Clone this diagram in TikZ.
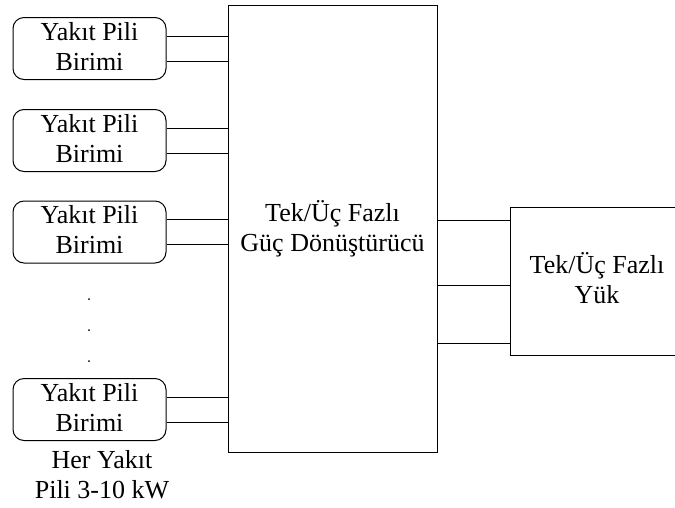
\documentclass[tikz,border=0pt]{standalone}
\usepackage{fontspec}
\setmainfont{Liberation Serif}
\begin{document}
\begin{tikzpicture}[x=1pt,y=-1pt,line width=1pt,
  every node/.style={font=\fontsize{26}{30}\selectfont,align=center,inner sep=0pt},
  every label/.style={font=\fontsize{26}{30}\selectfont,align=center,inner sep=0pt},
  cellbox/.style={draw,rounded corners=11pt,minimum width=153pt,minimum height=62pt,
    label={[yshift=2pt]center:{Yakıt Pili\\Birimi}}},
  bigbox/.style={draw,minimum width=209pt,minimum height=447pt},
  loadbox/.style={minimum width=164pt,minimum height=147pt},
  dot/.style={circle,fill,inner sep=0pt,minimum size=2pt},
  wire/.style={line width=1pt}]
\useasboundingbox (0,0) rectangle (675,507);

% fuel cell units
\node[cellbox] (fc1) at (89.5,48.5)  {};
\node[cellbox] (fc2) at (89.5,140.5) {};
\node[cellbox] (fc3) at (89.5,232)   {};
\node[cellbox] (fc4) at (89.5,409.5) {};

% ellipsis between units
\node[dot] (d1) at (89,299) {};
\node[dot] (d2) at (89,330) {};
\node[dot] (d3) at (89,361) {};

% rating note
\node (note) at (102,475) {Her Yakıt\\Pili 3-10 kW};

% power converter
\node[bigbox] (conv) at (332.5,228.5) {Tek/Üç Fazlı\\Güç Dönüştürücü};

% load (open on the right side)
\node[loadbox,label={[xshift=4pt,yshift=3pt]center:{Tek/Üç Fazlı\\Yük}}] (load) at (593,281.5) {};
\draw (load.north east) -- (load.north west) -- (load.south west) -- (load.south east);

% two conductors from every unit into the converter
\foreach \u in {fc1,fc2,fc3,fc4}{
  \draw[wire] ([yshift=12.5pt]\u.east) -- ([yshift=12.5pt]\u.east -| conv.west);
  \draw[wire] ([yshift=-12.5pt]\u.east) -- ([yshift=-12.5pt]\u.east -| conv.west);
}

% three-phase output to the load
\coordinate (o1) at (437,220);
\coordinate (o2) at (437,285);
\coordinate (o3) at (437,343);
\draw[wire] (o1 -| conv.east) -- (o1 -| load.west);
\draw[wire] (o2 -| conv.east) -- (o2 -| load.west);
\draw[wire] (o3 -| conv.east) -- (o3 -| load.west);
\end{tikzpicture}
\end{document}
